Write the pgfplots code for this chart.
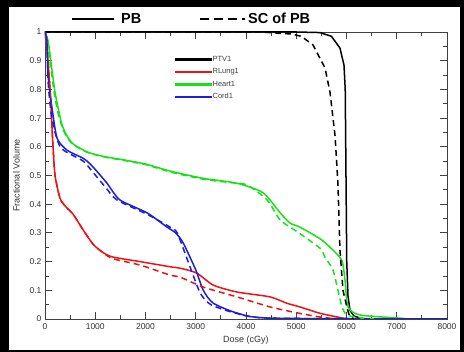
\documentclass[border=0pt]{standalone}
\usepackage{pgfplots}
\pgfplotsset{compat=1.18}
\usepackage{fontspec}
\setmainfont{Liberation Sans}
\definecolor{cgreen}{RGB}{25,225,25}
\definecolor{cred}{RGB}{235,20,20}
\definecolor{cblue}{RGB}{30,30,215}
\begin{document}
\begin{tikzpicture}
\fill[black] (0pt,0pt) rectangle (464pt,352pt);
\fill[white] (9pt,2pt) rectangle (460pt,345pt);
% top legend
\draw[black,line width=2pt] (72pt,332.5pt) -- (114pt,332.5pt);
\node[anchor=base west,inner sep=0pt,font=\fontsize{14.5}{16}\selectfont\bfseries] at (121pt,328pt) {PB};
\draw[black,line width=2pt,dash pattern=on 9pt off 5pt] (200pt,332.5pt) -- (245pt,332.5pt);
\node[anchor=base west,inner sep=0pt,font=\fontsize{14.5}{16}\selectfont\bfseries] at (248pt,328pt) {SC of PB};
\begin{axis}[
  at={(45pt,33pt)}, anchor=south west,
  width=402pt, height=287pt, scale only axis,
  xmin=0, xmax=8000, ymin=0, ymax=1,
  xtick={0,1000,2000,3000,4000,5000,6000,7000,8000},
  ytick={0,0.1,0.2,0.3,0.4,0.5,0.6,0.7,0.8,0.9,1},
  minor x tick num=1, minor y tick num=1,
  tick align=inside, major tick length=7pt, minor tick length=4pt,
  axis line style={draw=black!75},
  every tick/.style={black!75, line width=0.8pt},
  tick label style={font=\fontsize{8.5}{10}\selectfont, text=black!80},
  /pgf/number format/assume math mode=true,
  scaled x ticks=false,
  x tick label style={/pgf/number format/1000 sep={}, yshift=-1.5pt},
  xlabel={Dose (cGy)}, ylabel={Fractional Volume},
  label style={font=\fontsize{9}{10}\selectfont, text=black!80},
  xlabel style={yshift=1pt},
  ylabel style={yshift=3pt},
  clip=true,
  legend cell align=left,
  legend style={at={(0.316,0.93)}, anchor=north west, draw=none, fill=none,
    font=\fontsize{7.5}{8}\selectfont, text=black!75, row sep=3pt,
    nodes={inner sep=1pt, text height=6pt, text depth=1.5pt}},
]
\addlegendimage{legend image code/.code={\fill[black] (0pt,-0.8pt) rectangle (36pt,0.8pt);}}
\addlegendentry{PTV1}
\addlegendimage{legend image code/.code={\fill[cred] (0pt,-0.8pt) rectangle (36pt,0.8pt);}}
\addlegendentry{RLung1}
\addlegendimage{legend image code/.code={\fill[cgreen] (0pt,-0.8pt) rectangle (36pt,0.8pt);}}
\addlegendentry{Heart1}
\addlegendimage{legend image code/.code={\fill[cblue] (0pt,-0.8pt) rectangle (36pt,0.8pt);}}
\addlegendentry{Cord1}
% PTV1 solid
\addplot[black, line width=1.5pt, forget plot] coordinates {(0,1) (5000,1) (5470,0.998) (5700,0.985) (5870,0.944) (5950,0.885) (5975,0.8) (5985,0.6) (5995,0.4) (6005,0.2) (6030,0.08) (6070,0.03) (6150,0.01) (6300,0.002) (6500,0)};
% RLung1 solid
\addplot[cred, line width=1.5pt, smooth, tension=0.4, forget plot] coordinates {(0,1) (60,0.9) (100,0.8) (130,0.7) (160,0.6) (200,0.5) (300,0.42) (420,0.39) (560,0.365) (760,0.31) (960,0.26) (1150,0.232) (1350,0.216) (1890,0.2) (2490,0.182) (2690,0.177) (3020,0.16) (3350,0.118) (3820,0.094) (4480,0.077) (4810,0.055) (5075,0.042) (5470,0.02) (5930,0.003) (6100,0)};
% Heart1 solid
\addplot[cgreen, line width=1.5pt, smooth, tension=0.4, forget plot] coordinates {(0,1) (60,0.97) (130,0.88) (200,0.79) (280,0.72) (340,0.676) (430,0.64) (560,0.61) (750,0.59) (900,0.578) (1200,0.565) (1550,0.555) (2000,0.54) (2500,0.515) (3150,0.49) (3820,0.473) (4340,0.44) (4680,0.37) (4880,0.334) (5075,0.32) (5470,0.28) (5672,0.25) (5905,0.205) (5970,0.136) (6030,0.042) (6270,0.014) (7065,0.003) (7200,0)};
% Cord1 solid
\addplot[cblue, line width=1.5pt, smooth, tension=0.4, forget plot] coordinates {(0,1) (40,0.97) (60,0.85) (140,0.735) (240,0.63) (440,0.588) (760,0.56) (900,0.54) (1030,0.515) (1230,0.474) (1490,0.415) (2030,0.37) (2430,0.32) (2600,0.30) (2750,0.265) (3000,0.171) (3150,0.10) (3350,0.055) (3820,0.021) (4480,0.003) (8000,0)};
% dashed (SC of PB)
\addplot[black, line width=1.5pt, dash pattern=on 6pt off 4pt, forget plot] coordinates {(0,1) (4300,1) (4900,0.993) (5100,0.985) (5333,0.955) (5572,0.875) (5672,0.79) (5771,0.64) (5800,0.56) (5830,0.47) (5870,0.24) (5930,0.10) (6010,0.04) (6060,0.01) (6150,0)};
\addplot[cred, line width=1.5pt, smooth, tension=0.4, dash pattern=on 6pt off 4pt, forget plot] coordinates {(0,1) (60,0.9) (100,0.8) (130,0.7) (160,0.6) (200,0.5) (300,0.42) (420,0.39) (560,0.365) (760,0.31) (960,0.26) (1150,0.232) (1350,0.21) (1890,0.188) (2490,0.153) (2690,0.146) (3150,0.111) (3820,0.077) (4480,0.042) (5000,0.022) (5470,0.007) (5800,0)};
\addplot[cgreen, line width=1.5pt, smooth, tension=0.4, dash pattern=on 6pt off 4pt, forget plot] coordinates {(0,1) (50,0.96) (120,0.87) (190,0.78) (270,0.71) (340,0.67) (430,0.635) (560,0.608) (750,0.588) (900,0.577) (1200,0.564) (1550,0.553) (2000,0.538) (2500,0.512) (3150,0.487) (3700,0.475) (4020,0.467) (4420,0.415) (4680,0.345) (5010,0.305) (5470,0.247) (5570,0.216) (5730,0.171) (5830,0.1) (5910,0.042) (6010,0.014) (6300,0.003) (6600,0)};
\addplot[cblue, line width=1.5pt, smooth, tension=0.4, dash pattern=on 6pt off 4pt, forget plot] coordinates {(0,1) (40,0.96) (60,0.83) (120,0.72) (200,0.65) (300,0.6) (440,0.58) (760,0.55) (960,0.51) (1200,0.46) (1430,0.415) (2030,0.365) (2490,0.32) (2630,0.30) (2890,0.18) (3090,0.09) (3300,0.05) (3800,0.02) (4480,0.003) (8000,0)};
\end{axis}
\end{tikzpicture}
\end{document}
